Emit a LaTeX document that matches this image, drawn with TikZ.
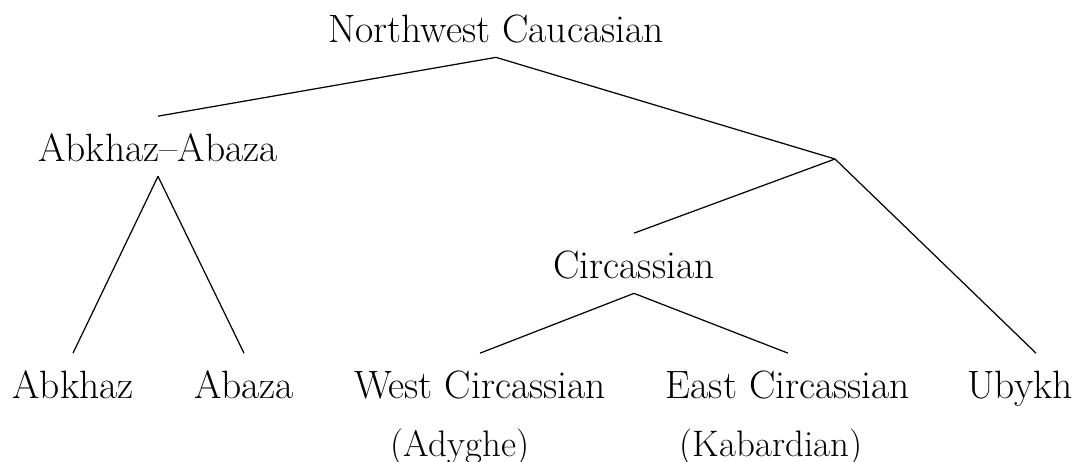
\documentclass[tikz,border=0pt]{standalone}
\usetikzlibrary{positioning}

\begin{document}
\begin{tikzpicture}[x=0.02cm,y=-0.02cm,
		font=\fontsize{22.5pt}{27pt}\selectfont,
		lang/.style={inner sep=0pt,anchor=base,text height=0.89cm,text depth=0.3cm},
		gloss/.style={inner sep=0pt,anchor=base,font=\fontsize{21pt}{25pt}\selectfont},
		branch/.style={line width=0.7pt}]
		\useasboundingbox (0,0) rectangle (1080,461);
		
		% Define nodes
		\node[lang] (nw) at (496,42) {Northwest Caucasian};
		\node[lang] (aa) at (158,161) {Abkhaz--Abaza};
		\coordinate (j) at (835,159);
		\node[lang] (ci) at (634,278) {Circassian};
		
		\node[lang] (ak) at (73,398) {Abkhaz};
		\node[lang] (az) at (244,398) {Abaza};
		\node[lang] (wc) at (480,398) {West Circassian};
		\node[lang] (ec) at (788,398) {East Circassian};
		\node[lang] (ub) at (1020,398) {Ubykh};
		
		% Glosses
		\node[gloss] (ady) at (460,456) {(Adyghe)};
		\node[gloss] (kab) at (771,456) {(Kabardian)};
		
		% Draw branches
		\draw[branch] (nw.south) -- (aa.north);
		\draw[branch] (nw.south) -- (j);
		\draw[branch] (j) -- (ci.north);
		\draw[branch] (j) -- ([xshift=0.32cm]ub.north);
		\draw[branch] (aa.south) -- (ak.north);
		\draw[branch] (aa.south) -- (az.north);
		\draw[branch] (ci.south) -- (wc.north);
		\draw[branch] (ci.south) -- (ec.north);
	\end{tikzpicture}
\end{document}
